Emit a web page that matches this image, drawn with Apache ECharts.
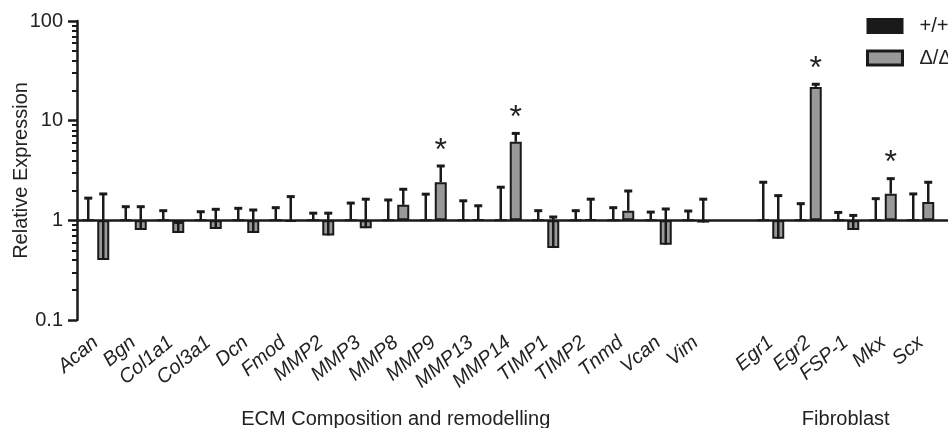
<!DOCTYPE html>
<html>
<head>
<meta charset="utf-8">
<script src="https://cdn.jsdelivr.net/npm/echarts@6/dist/echarts.min.js"></script>
<style>html,body{margin:0;padding:0;background:#fff}#c{width:948px;height:428px}</style>
</head>
<body>
<div id="c"></div>
<script>
// ---- data ----
const categories = ['Acan','Bgn','Col1a1','Col3a1','Dcn','Fmod','MMP2','MMP3','MMP8','MMP9','MMP13','MMP14','TIMP1','TIMP2','Tnmd','Vcan','Vim','','Egr1','Egr2','FSP-1','Mkx','Scx',' '];
const seriesNames = ['+/+', 'Δ/Δ'];
const wtValues = [1,1,1,1,1,1,1,1,1,1,1,1,1,1,1,1,1,null,1,1,1,1,1,null];
const wtUpper  = [1.67,1.37,1.25,1.22,1.32,1.34,1.18,1.49,1.60,1.83,1.57,2.15,1.25,1.25,1.34,1.21,1.24,null,2.41,1.47,1.20,1.65,1.84,null];
const koValues = [0.40,0.80,0.745,0.82,0.745,0.97,0.705,0.835,1.43,2.41,1.02,6.14,0.527,1.02,1.25,0.569,0.95,null,0.653,21.8,0.80,1.85,1.53,null];
const koUpper  = [1.84,1.37,0.95,1.29,1.27,1.73,1.18,1.63,2.05,3.51,1.40,7.45,1.08,1.63,1.97,1.30,1.63,null,1.77,23.2,1.12,2.62,2.41,null];
const koSig    = ['','','','','','','','','','*','','*','','','','','','','','*','','*','',''];
const yMin = 0.1, yMax = 100;
const yMinorTicks = [0.2,0.3,0.4,0.5,0.6,0.7,0.8,0.9,2,3,4,5,6,7,8,9,20,30,40,50,60,70,80,90];
const groups = [
  {name: 'ECM Composition and remodelling', first: 'Acan', last: 'Vim'},
  {name: 'Fibroblast', first: 'Egr1', last: 'Scx'}
];

// ---- style ----
const INK = '#1a1a1a';
const GREY = '#999999';
const FONT = "'Liberation Sans', Arial, Helvetica, sans-serif";
const BAR_W = 12, BAR_OFF = 7.5;

function errData(vals, ups, sign, sig) {
  return vals.map((v, i) => [i, v == null ? NaN : v, ups[i] == null ? NaN : ups[i], sign, sig ? sig[i] : '']);
}
function renderErr(params, api) {
  const i = api.value(0), v = api.value(1), hi = api.value(2), sign = api.value(3);
  if (isNaN(v) || isNaN(hi)) return;
  const p0 = api.coord([i, v]);
  const p1 = api.coord([i, hi]);
  const x = p0[0] + sign * BAR_OFF;
  const kids = [
    {type: 'line', shape: {x1: x, y1: p0[1], x2: x, y2: p1[1]}, style: {stroke: INK, lineWidth: 2.5}},
    {type: 'line', shape: {x1: x - 4, y1: p1[1], x2: x + 4, y2: p1[1]}, style: {stroke: INK, lineWidth: 3}}
  ];
  const s = api.value(4);
  if (s) {
    kids.push({type: 'text', style: {text: s, x: x, y: p1[1] - 15, align: 'center', verticalAlign: 'middle',
      font: "32px 'Liberation Sans', Arial, sans-serif", fill: '#222'}});
  }
  return {type: 'group', children: kids};
}

const chart = echarts.init(document.getElementById('c'), null, {renderer: 'canvas'});
chart.setOption({
  animation: false,
  backgroundColor: '#fff',
  textStyle: {fontFamily: FONT},
  grid: {left: 77, top: 21, height: 299, width: 900, containLabel: false, outerBoundsMode: 'none'},
  legend: {
    orient: 'vertical', left: 861, top: 11, itemWidth: 35, itemHeight: 14, itemGap: 12,
    icon: 'rect',
    textStyle: {fontSize: 20, color: '#222', fontFamily: FONT, padding: [0, 0, 0, 12]},
    data: [
      {name: seriesNames[0], itemStyle: {color: INK, borderColor: INK, borderWidth: 2}},
      {name: seriesNames[1], itemStyle: {color: GREY, borderColor: INK, borderWidth: 3}}
    ]
  },
  xAxis: {
    type: 'category', data: categories,
    axisLine: {show: false}, axisTick: {show: false},
    axisLabel: {interval: 0, rotate: 40, margin: 20, fontSize: 20, fontStyle: 'italic', color: '#222', fontFamily: FONT}
  },
  yAxis: [
    {
      type: 'log', logBase: 10, min: yMin, max: yMax, position: 'left', interval: 1,
      name: 'Relative Expression', nameLocation: 'middle', nameGap: 46, nameMoveOverlap: false,
      nameTextStyle: {fontSize: 20, color: '#222', fontFamily: FONT},
      axisLine: {show: true, lineStyle: {color: INK, width: 2.5}},
      axisTick: {show: true, length: 9, lineStyle: {color: INK, width: 2.5}},
      axisLabel: {fontSize: 20, color: '#222', margin: 14, fontFamily: FONT, formatter: v => String(v)},
      splitLine: {show: false}
    },
    {
      // minor ticks at 2..9 of each decade, placed on a log10-space helper axis
      type: 'value', min: Math.log10(yMin), max: Math.log10(yMax), position: 'left',
      axisLine: {show: false},
      axisTick: {show: true, length: 5, lineStyle: {color: INK, width: 2}, customValues: yMinorTicks.map(Math.log10)},
      axisLabel: {show: false},
      splitLine: {show: false}
    }
  ],
  series: [
    {
      name: seriesNames[0], type: 'bar', data: wtValues, barWidth: BAR_W, barGap: '25%',
      itemStyle: {color: INK, borderColor: INK, borderWidth: 2}, z: 2
    },
    {
      name: seriesNames[1], type: 'bar', data: koValues, barWidth: BAR_W, barGap: '25%',
      itemStyle: {color: GREY, borderColor: INK, borderWidth: 2}, z: 2,
      markLine: {
        silent: true, symbol: ['none', 'none'], label: {show: false},
        lineStyle: {color: INK, width: 2.5, type: 'solid'},
        data: [{yAxis: 1}]
      }
    },
    {type: 'custom', name: 'err-wt', renderItem: renderErr, data: errData(wtValues, wtUpper, -1, null), z: 3, silent: true},
    {type: 'custom', name: 'err-ko', renderItem: renderErr, data: errData(koValues, koUpper, 1, koSig), z: 3, silent: true}
  ]
});

// group labels centred under their category ranges
const graphics = groups.map(g => {
  const a = chart.convertToPixel({xAxisIndex: 0}, g.first);
  const b = chart.convertToPixel({xAxisIndex: 0}, g.last);
  return {type: 'text', x: (a + b) / 2, y: 419,
    style: {text: g.name, align: 'center', verticalAlign: 'middle', font: "20px 'Liberation Sans', Arial, sans-serif", fill: '#222'}};
});
chart.setOption({graphic: graphics});
</script>
</body>
</html>
